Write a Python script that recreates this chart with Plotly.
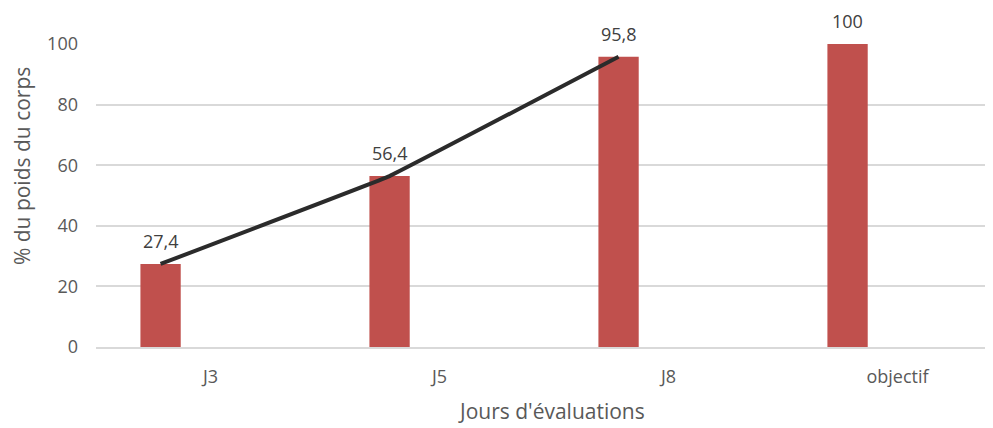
import plotly.graph_objects as go

jours = ["J3", "J5", "J8", "objectif"]
poids = [27.4, 56.4, 95.8, 100]
jours_suivi = ["J3", "J5", "J8"]
poids_suivi = [27.4, 56.4, 95.8]

rouge = "#C0504D"
gris_txt = "#595959"
gris_grille = "#D9D9D9"
decalage = -0.218  # bars sit left of the category centre, like the Excel chart

fig = go.Figure()

fig.add_trace(go.Bar(
    x=jours, y=poids,
    marker=dict(color=rouge, line=dict(width=0)),
    width=0.176, offset=decalage - 0.088,
    xaxis="x", yaxis="y",
    hoverinfo="skip",
))

fig.add_trace(go.Scatter(
    x=jours_suivi, y=poids_suivi,
    mode="lines",
    line=dict(color="#2b2b2b", width=4, shape="spline", smoothing=0.12),
    xaxis="x2", yaxis="y",
    hoverinfo="skip",
))

# data labels above the bars, French decimal comma
for j, v in zip(jours, poids):
    fig.add_annotation(
        x=j, y=v, xref="x2", yref="y",
        text=f"{v:g}".replace(".", ","),
        showarrow=False, yshift=23, yanchor="middle",
        font=dict(size=18, color="#404040"),
    )

fig.add_annotation(
    x=0.5, y=-0.211, xref="paper", yref="paper",
    text="Jours d'évaluations", showarrow=False,
    xanchor="center", yanchor="middle", xshift=8,
    font=dict(size=21, color=gris_txt),
)
fig.add_annotation(
    x=0, y=0.597, xref="paper", yref="paper",
    text="% du poids du corps", showarrow=False, textangle=-90,
    xanchor="center", yanchor="middle", xshift=-74,
    font=dict(size=21, color=gris_txt),
)

x_range = [-0.5, 3.404]
fig.update_layout(
    width=993, height=428,
    margin=dict(l=88, r=11, t=36, b=89),
    paper_bgcolor="white", plot_bgcolor="white",
    showlegend=False,
    font=dict(family="Open Sans, sans-serif", size=18, color=gris_txt),
    xaxis=dict(
        type="category", categoryorder="array", categoryarray=jours,
        range=x_range, showgrid=False, zeroline=False,
        showline=True, linecolor=gris_grille, linewidth=2,
        ticks="", ticklabelstandoff=12,
        tickfont=dict(size=18, color=gris_txt),
    ),
    xaxis2=dict(
        type="category", categoryorder="array", categoryarray=jours,
        range=[x_range[0] - decalage, x_range[1] - decalage],
        overlaying="x", visible=False,
    ),
    yaxis=dict(
        range=[0, 100], dtick=20,
        showgrid=True, gridcolor=gris_grille, gridwidth=2,
        zeroline=False, showline=False, ticks="",
        ticklabelstandoff=17,
        tickfont=dict(size=18, color=gris_txt),
    ),
)

fig.write_html("out.html")
